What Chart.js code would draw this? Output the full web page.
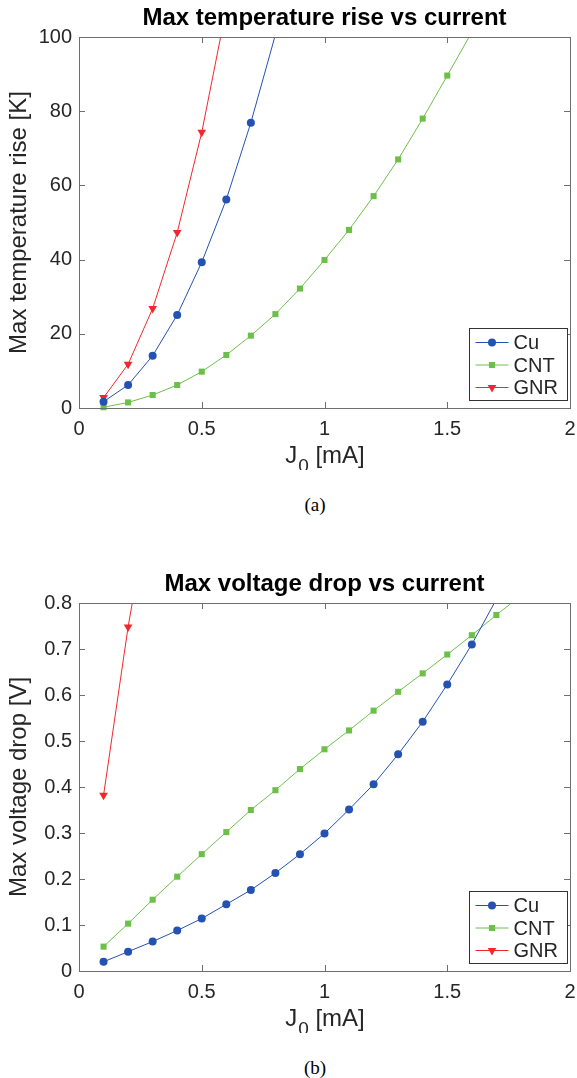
<!DOCTYPE html>
<html>
<head>
<meta charset="utf-8">
<script src="https://cdn.jsdelivr.net/npm/chart.js"></script>
<style>
  body { margin: 0; background: #fff; width: 577px; height: 1078px; position: relative; overflow: hidden; }
  .box { position: absolute; left: 0; width: 577px; }
  .caption { position: absolute; width: 60px; text-align: center; line-height: 20px;
    font-family: 'Liberation Serif', 'Times New Roman', serif; font-size: 19px; color: #000; }
</style>
</head>
<body>
<div class="box" style="top:0px;height:470px"><canvas id="canvas" width="577" height="470"></canvas></div>
<div class="caption" style="left:285px;top:495px">(a)</div>
<div class="box" style="top:566px;height:467px"><canvas id="canvas2" width="577" height="467"></canvas></div>
<div class="caption" style="left:285px;top:1058px">(b)</div>
<script>
// current steps (mA)
let currents = [0.1, 0.2, 0.3, 0.4, 0.5, 0.6, 0.7, 0.8, 0.9, 1.0, 1.1, 1.2, 1.3, 1.4, 1.5, 1.6, 1.7, 1.8];

// (a) max temperature rise [K]
let cu_temp = [1.7, 6.2, 14.1, 25.1, 39.3, 56.2, 76.9, 100.6];
let cnt_temp = [0.2, 1.5, 3.5, 6.2, 9.8, 14.3, 19.5, 25.3, 32.2, 39.9, 48.0, 57.1, 67.0, 78.0, 89.6, 101.3];
let gnr_temp = [2.8, 11.8, 26.8, 47.3, 74.3, 107.7];

// (b) max voltage drop [V]
let cu_volt = [0.020, 0.042, 0.064, 0.088, 0.114, 0.145, 0.176, 0.213, 0.254, 0.299, 0.351, 0.406, 0.471, 0.542, 0.623, 0.710, 0.808];
let cnt_volt = [0.053, 0.103, 0.155, 0.205, 0.254, 0.302, 0.350, 0.393, 0.439, 0.482, 0.523, 0.566, 0.607, 0.647, 0.688, 0.730, 0.774, 0.816];
let gnr_volt = [0.382, 0.748, 1.054];

let fonte = "'Liberation Sans', Arial, Helvetica, sans-serif";
let cor_texto = '#262626';
let cor_eixo = '#6e6e6e';

function pontos(valores) {
  let lista = [];
  for (let i = 0; i < valores.length; i++) {
    lista.push({x: currents[i], y: valores[i]});
  }
  return lista;
}

// frame, inward ticks, x title with subscript and the legend box
let extras = {
  id: 'extras',
  afterDatasetsDraw(chart) {
    let ctx = chart.ctx;
    let a = chart.chartArea;
    let sx = chart.scales.x;
    let sy = chart.scales.y;
    ctx.save();
    ctx.strokeStyle = cor_eixo;
    ctx.lineWidth = 1;
    ctx.strokeRect(Math.round(a.left) + 0.5, Math.round(a.top) + 0.5, Math.round(a.right - a.left), Math.round(a.bottom - a.top));
    ctx.beginPath();
    for (let i = 1; i < sx.ticks.length - 1; i++) {
      let px = Math.round(sx.getPixelForValue(sx.ticks[i].value)) + 0.5;
      ctx.moveTo(px, a.bottom); ctx.lineTo(px, a.bottom - 6);
      ctx.moveTo(px, a.top); ctx.lineTo(px, a.top + 6);
    }
    for (let i = 1; i < sy.ticks.length - 1; i++) {
      let py = Math.round(sy.getPixelForValue(sy.ticks[i].value)) + 0.5;
      ctx.moveTo(a.left, py); ctx.lineTo(a.left + 6, py);
      ctx.moveTo(a.right, py); ctx.lineTo(a.right - 6, py);
    }
    ctx.stroke();

    // x axis title J0 [mA]
    ctx.fillStyle = cor_texto;
    ctx.textBaseline = 'alphabetic';
    ctx.textAlign = 'left';
    ctx.font = '24px ' + fonte;
    let w1 = ctx.measureText('J').width;
    let w3 = ctx.measureText(' [mA]').width;
    ctx.font = '19px ' + fonte;
    let w2 = ctx.measureText('0').width;
    let x0 = (a.left + a.right) / 2 - (w1 + w2 + w3) / 2;
    let base = a.bottom + 55;
    ctx.font = '24px ' + fonte;
    ctx.fillText('J', x0, base);
    ctx.font = '19px ' + fonte;
    ctx.fillText('0', x0 + w1 + 1, base + 9);
    ctx.font = '24px ' + fonte;
    ctx.fillText(' [mA]', x0 + w1 + w2 + 1, base);

    // legend
    let bw = 98, bh = 72;
    let bx = Math.round(a.right - 3 - bw) + 0.5;
    let by = Math.round(a.bottom - 8 - bh) + 0.5;
    ctx.fillStyle = '#fff';
    ctx.fillRect(bx, by, bw, bh);
    ctx.strokeStyle = '#333';
    ctx.strokeRect(bx, by, bw, bh);
    let sets = chart.data.datasets;
    for (let i = 0; i < sets.length; i++) {
      let d = sets[i];
      let ry = by + 14 + i * 22.5;
      ctx.strokeStyle = d.borderColor;
      ctx.lineWidth = 1;
      ctx.beginPath();
      ctx.moveTo(bx + 6, ry); ctx.lineTo(bx + 39, ry);
      ctx.stroke();
      ctx.fillStyle = d.backgroundColor;
      Chart.helpers.drawPoint(ctx, {pointStyle: d.pointStyle, rotation: d.pointRotation || 0, radius: d.legendRadius, borderWidth: 0}, bx + 22.5, ry);
      ctx.fillStyle = cor_texto;
      ctx.font = '20px ' + fonte;
      ctx.textBaseline = 'middle';
      ctx.fillText(d.label, bx + 44, ry + 1);
    }
    ctx.restore();
  }
};

function serie(nome, valores, cor, estilo, raio, rot, ymax) {
  return {
    label: nome,
    data: pontos(valores),
    borderColor: cor,
    backgroundColor: cor,
    borderWidth: 1,
    pointStyle: estilo,
    pointRotation: rot,
    legendRadius: raio,
    pointBorderWidth: 0,
    pointRadius: function(c) { return c.raw && c.raw.y > ymax ? 0 : raio; },
    clip: {left: 8, right: 8, top: 0, bottom: 8}
  };
}

function configurar(titulo, titulo_y, ymax, passo, cu, cnt, gnr, formato) {
  return {
    type: 'line',
    data: {
      datasets: [
        serie('Cu', cu, '#2452b3', 'circle', 4, 0, ymax),
        serie('CNT', cnt, '#6cc04a', 'rect', 4.3, 0, ymax),
        serie('GNR', gnr, '#f0282d', 'triangle', 5, 180, ymax)
      ]
    },
    options: {
      responsive: false,
      animation: false,
      layout: { padding: { left: 0, right: 7, top: 0, bottom: 0 } },
      plugins: {
        legend: { display: false },
        tooltip: { enabled: false },
        title: {
          display: true,
          text: titulo,
          fullSize: false,
          color: '#000',
          font: { family: fonte, size: 24, weight: 'bold', lineHeight: 1 },
          padding: { top: 6, bottom: 7 }
        }
      },
      scales: {
        x: {
          type: 'linear',
          min: 0, max: 2,
          grid: { display: false, drawTicks: false },
          border: { display: false },
          ticks: { stepSize: 0.5, autoSkip: false, maxRotation: 0, padding: 9, color: cor_texto, font: { family: fonte, size: 20 },
            callback: function(v) { return String(v); } },
          afterFit: function(s) { s.height = 62; s.paddingLeft = 0; s.paddingRight = 0; }
        },
        y: {
          min: 0, max: ymax,
          grid: { display: false, drawTicks: false },
          border: { display: false },
          ticks: { stepSize: passo, padding: 7, color: cor_texto, font: { family: fonte, size: 20 }, callback: formato },
          title: { display: true, text: titulo_y, color: cor_texto, font: { family: fonte, size: 24 }, padding: 5 },
          afterFit: function(s) { s.width = 79; }
        }
      }
    },
    plugins: [extras]
  };
}

let configuracao = configurar('Max temperature rise vs current', 'Max temperature rise [K]', 100, 20,
  cu_temp, cnt_temp, gnr_temp, function(v) { return String(v); });
let chart = new Chart(document.getElementById('canvas'), configuracao);

let configuracao2 = configurar('Max voltage drop vs current', 'Max voltage drop [V]', 0.8, 0.1,
  cu_volt, cnt_volt, gnr_volt, function(v) { return v === 0 ? '0' : v.toFixed(1); });
let chart2 = new Chart(document.getElementById('canvas2'), configuracao2);
</script>
</body>
</html>
